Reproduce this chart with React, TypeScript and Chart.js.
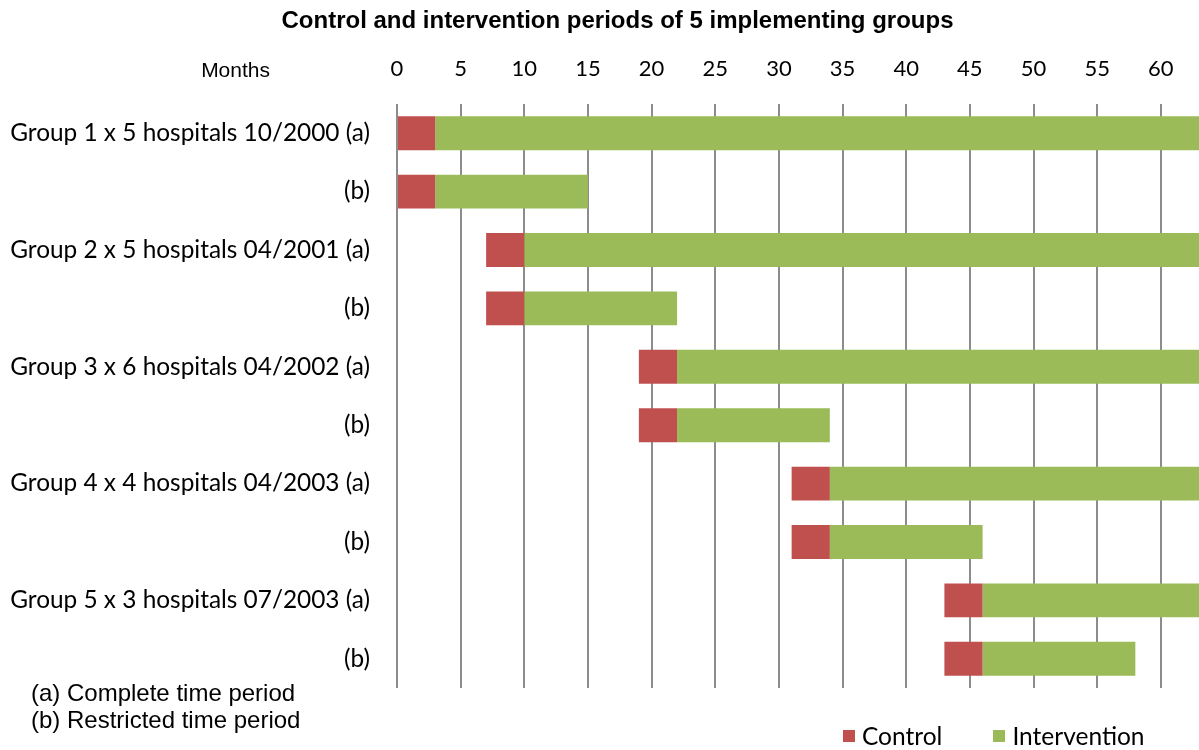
import React, { useEffect, useRef } from "react";
import { Chart, registerables } from "chart.js";

Chart.register(...registerables);

const categories = [
  "Group 1 x 5 hospitals 10/2000 (a)",
  "(b)",
  "Group 2 x 5 hospitals 04/2001 (a)",
  "(b)",
  "Group 3 x 6 hospitals 04/2002 (a)",
  "(b)",
  "Group 4 x 4 hospitals 04/2003 (a)",
  "(b)",
  "Group 5 x 3 hospitals 07/2003 (a)",
  "(b)",
];
const controlStart = [0, 0, 7, 7, 19, 19, 31, 31, 43, 43];
const controlEnd = [3, 3, 10, 10, 22, 22, 34, 34, 46, 46];
const interventionEnd = [63, 15, 63, 22, 63, 34, 63, 46, 63, 58];
const xTickValues = [0, 5, 10, 15, 20, 25, 30, 35, 40, 45, 50, 55, 60];
const xMax = 63;

const seriesLabels = ["Control", "Intervention"];
const seriesColors = ["#C0504D", "#9BBB59"];

const titleText = "Control and intervention periods of 5 implementing groups";
const axisLabel = "Months";
const footnotes = ["(a) Complete time period", "(b) Restricted time period"];

export default function App() {
  const canvasRef = useRef<HTMLCanvasElement | null>(null);

  useEffect(() => {
    if (!canvasRef.current) return;
    const chart = new Chart(canvasRef.current, {
      type: "bar",
      data: {
        labels: categories,
        datasets: [
          {
            label: seriesLabels[0],
            data: categories.map((_, i) => [controlStart[i], controlEnd[i]]) as any,
            backgroundColor: seriesColors[0],
            borderWidth: 0,
            grouped: false,
            categoryPercentage: 0.58,
            barPercentage: 1,
          } as any,
          {
            label: seriesLabels[1],
            data: categories.map((_, i) => [controlEnd[i], interventionEnd[i]]) as any,
            backgroundColor: seriesColors[1],
            borderWidth: 0,
            grouped: false,
            categoryPercentage: 0.58,
            barPercentage: 1,
          } as any,
        ],
      },
      options: {
        indexAxis: "y",
        animation: false,
        responsive: false,
        maintainAspectRatio: false,
        layout: { padding: { top: 0, left: 0, right: 0, bottom: 62 } },
        plugins: {
          legend: { display: false },
          title: { display: false },
          tooltip: { enabled: false },
        },
        scales: {
          x: {
            type: "linear",
            position: "top",
            min: 0,
            max: xMax,
            afterBuildTicks: (scale: any) => {
              scale.ticks = xTickValues.map((v) => ({ value: v }));
            },
            afterFit: (scale: any) => {
              scale.height = 104;
            },
            ticks: {
              padding: 22,
              color: "#000",
              font: { family: "Lato", size: 22 },
              maxRotation: 0,
            },
            grid: {
              color: "#8c8c8c",
              lineWidth: 2,
              drawTicks: false,
            },
            border: { display: false },
          },
          y: {
            type: "category",
            position: "left",
            afterFit: (scale: any) => {
              scale.width = 397;
            },
            ticks: {
              padding: 27,
              color: "#000",
              font: { family: "Lato", size: 24.4 },
            },
            grid: { display: false, drawTicks: false },
            border: { display: false },
          },
        },
      } as any,
    });
    return () => chart.destroy();
  }, []);

  return (
    <div
      style={{
        position: "absolute",
        left: 0,
        top: 0,
        width: 1199,
        height: 750,
        background: "#fff",
        overflow: "hidden",
      }}
    >
      <canvas ref={canvasRef} width={1199} height={750} style={{ position: "absolute", left: 0, top: 0 }} />
      <div
        style={{
          position: "absolute",
          top: 5,
          left: 18,
          width: 1199,
          textAlign: "center",
          fontFamily: "'Liberation Sans', Arial, sans-serif",
          fontWeight: "bold",
          fontSize: 24,
          color: "#000",
          lineHeight: "30px",
        }}
      >
        {titleText}
      </div>
      <div
        style={{
          position: "absolute",
          top: 55,
          right: 1199 - 270,
          fontFamily: "'Liberation Sans', Arial, sans-serif",
          fontSize: 21,
          color: "#000",
          lineHeight: "30px",
        }}
      >
        {axisLabel}
      </div>
      <div
        style={{
          position: "absolute",
          top: 679,
          left: 31,
          fontFamily: "'Liberation Sans', Arial, sans-serif",
          fontSize: 24,
          color: "#000",
          lineHeight: "27px",
        }}
      >
        {footnotes.map((f) => (
          <div key={f}>{f}</div>
        ))}
      </div>
      <div
        style={{
          position: "absolute",
          top: 721,
          left: 843,
          display: "flex",
          alignItems: "center",
          fontFamily: "Lato, sans-serif",
          fontSize: 24.5,
          color: "#000",
          lineHeight: "30px",
        }}
      >
        {seriesLabels.map((l, i) => (
          <div key={l} style={{ display: "flex", alignItems: "center", marginRight: i === 0 ? 51 : 0 }}>
            <span style={{ display: "inline-block", width: 12, height: 12, background: seriesColors[i], marginRight: 7 }} />
            <span>{l}</span>
          </div>
        ))}
      </div>
    </div>
  );
}
